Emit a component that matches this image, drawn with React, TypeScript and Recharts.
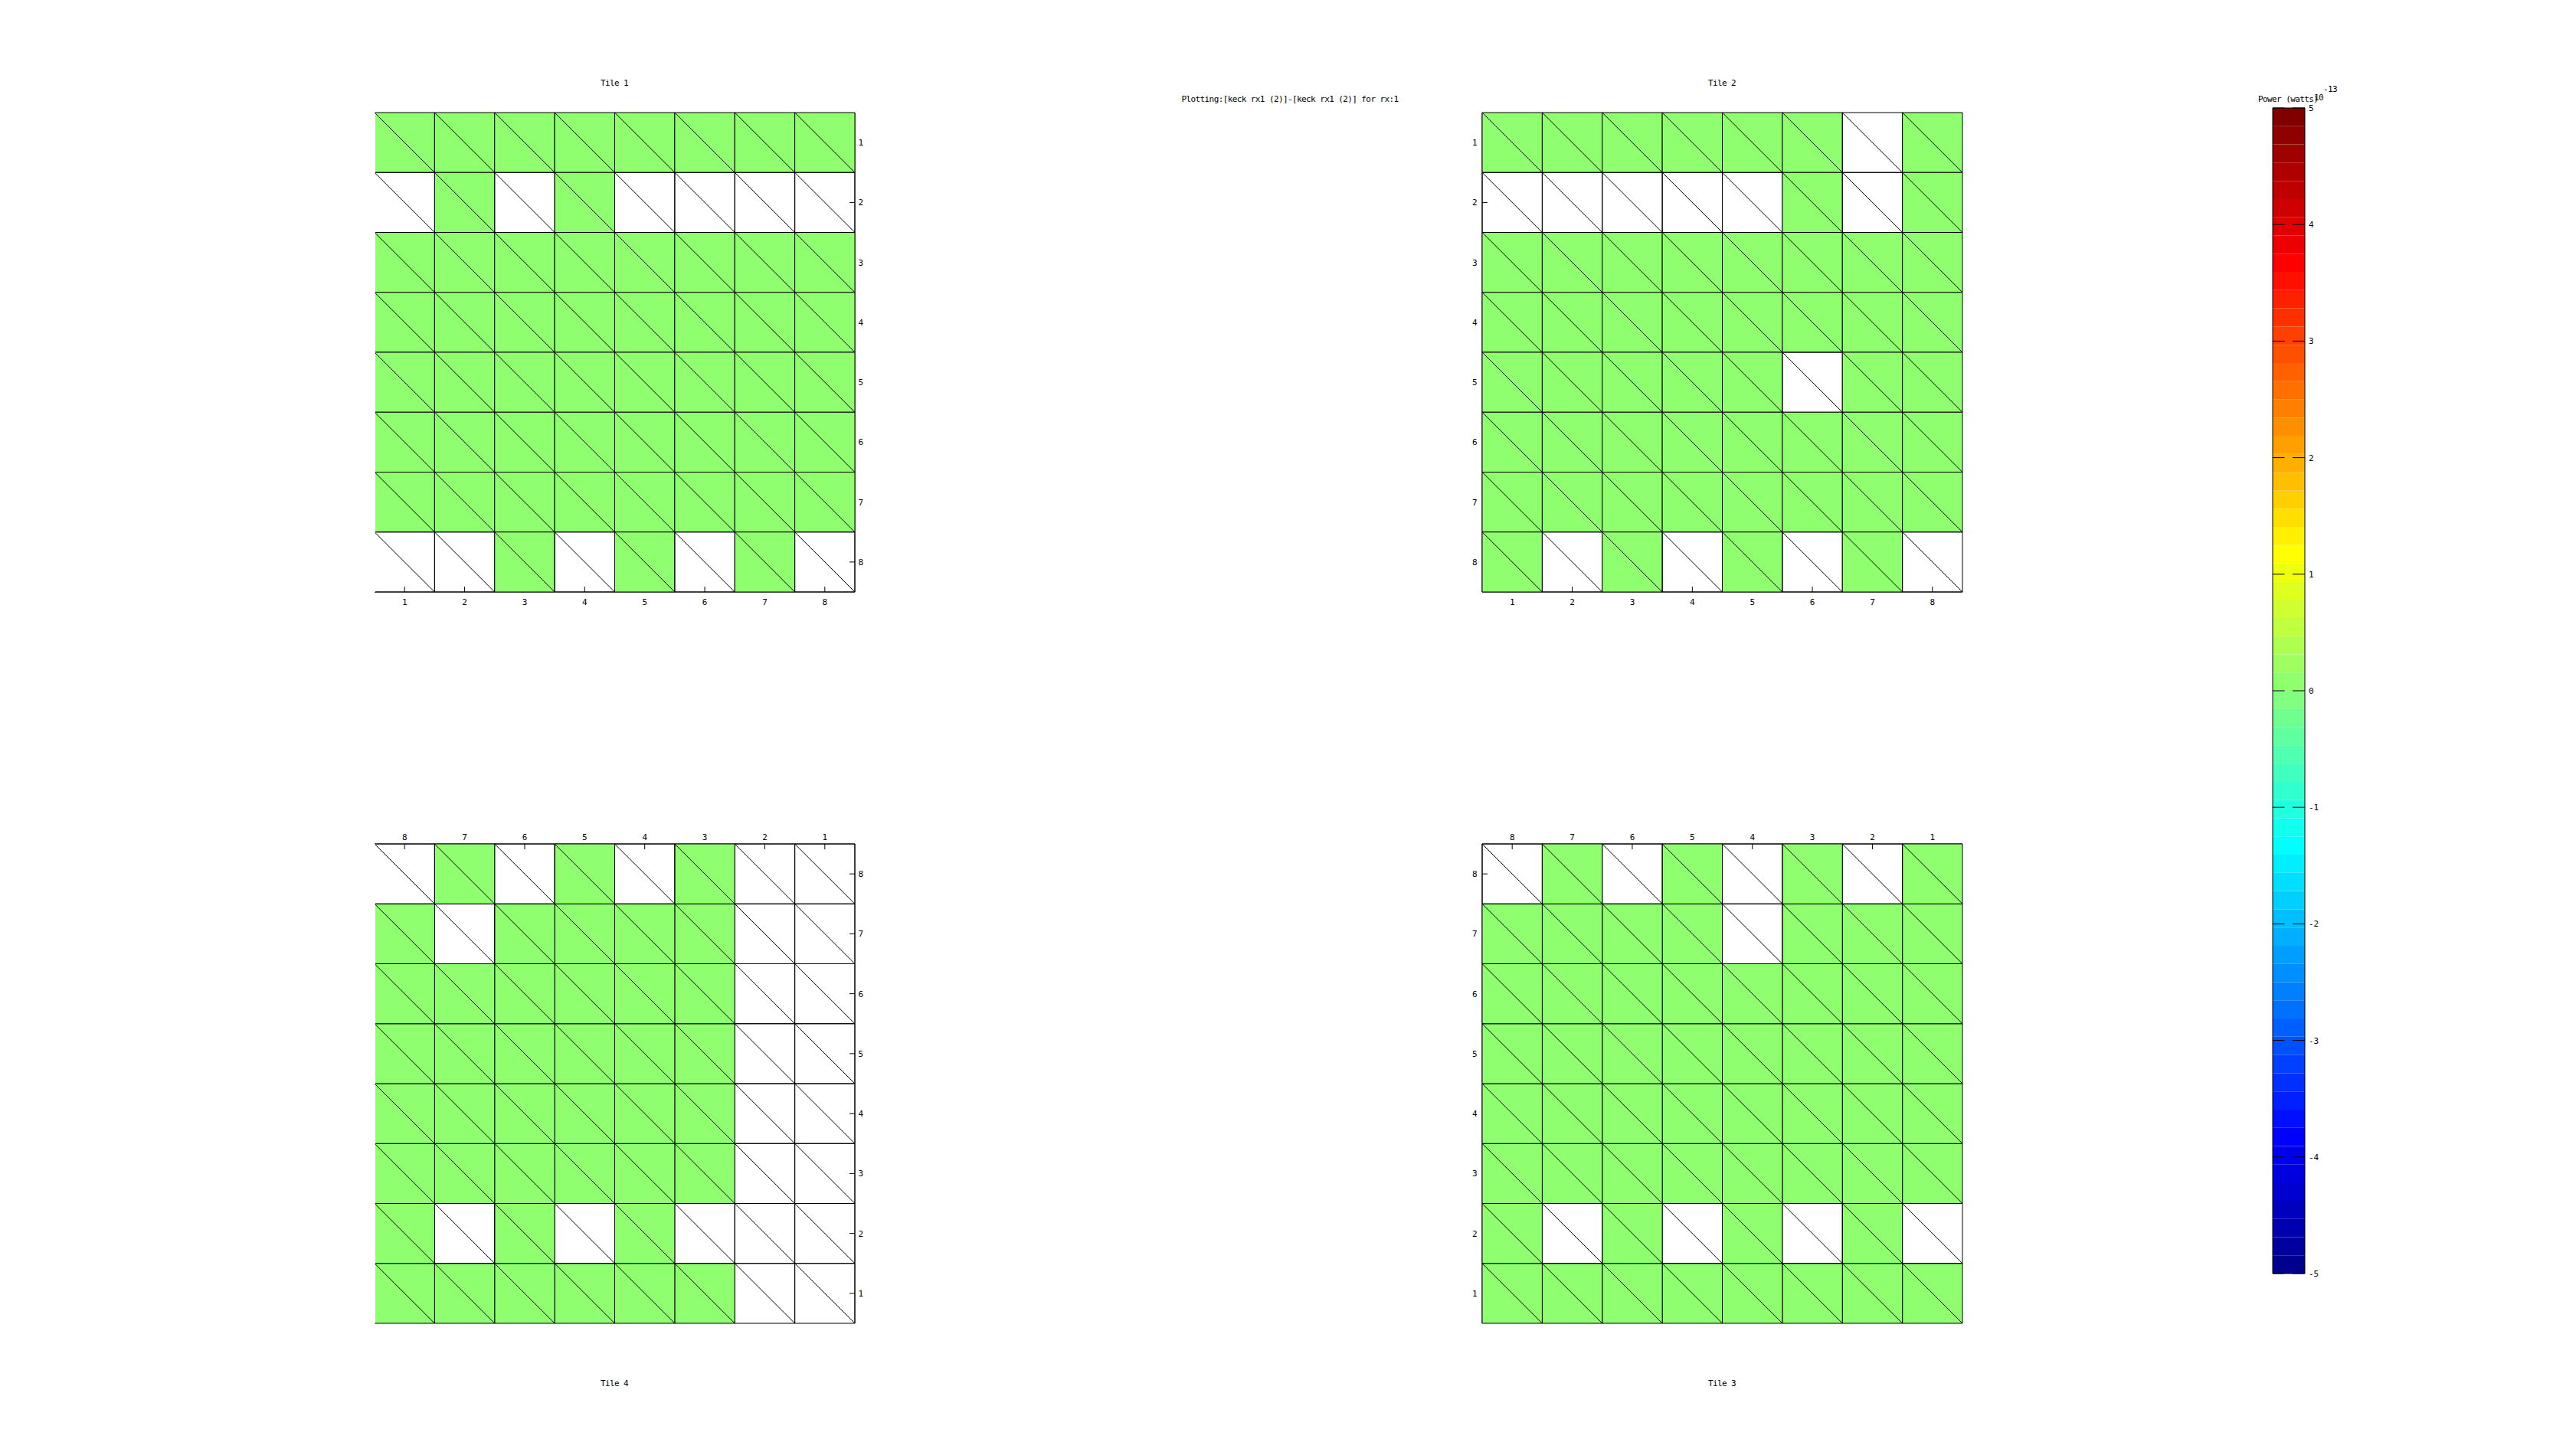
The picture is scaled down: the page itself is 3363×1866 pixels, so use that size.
import React from 'react';
import { ScatterChart, Scatter, XAxis, YAxis, ReferenceArea, ReferenceLine } from 'recharts';

const N = null;

// Grid indices (pixel columns / rows) and their tick labels
const GRID_TICKS = [1, 2, 3, 4, 5, 6, 7, 8];
const GRID_DOMAIN: [number, number] = [0.5, 8.5];

// Colour scale (x 10^-13 watts)
const COLOR_MIN = -5;
const COLOR_MAX = 5;
const COLORBAR_TICKS = [-5, -4, -3, -2, -1, 0, 1, 2, 3, 4, 5];

// 64-step jet colour map, bottom (-5) to top (+5)
const JET64 = [
  '#00008F', '#00009F', '#0000AF', '#0000BF', '#0000CF', '#0000DF', '#0000EF', '#0000FF',
  '#0010FF', '#0020FF', '#0030FF', '#0040FF', '#0050FF', '#0060FF', '#0070FF', '#0080FF',
  '#008FFF', '#009FFF', '#00AFFF', '#00BFFF', '#00CFFF', '#00DFFF', '#00EFFF', '#00FFFF',
  '#10FFEF', '#20FFDF', '#30FFCF', '#40FFBF', '#50FFAF', '#60FF9F', '#70FF8F', '#80FF80',
  '#8FFF70', '#9FFF60', '#AFFF50', '#BFFF40', '#CFFF30', '#DFFF20', '#EFFF10', '#FFFF00',
  '#FFEF00', '#FFDF00', '#FFCF00', '#FFBF00', '#FFAF00', '#FF9F00', '#FF8F00', '#FF8000',
  '#FF7000', '#FF6000', '#FF5000', '#FF4000', '#FF3000', '#FF2000', '#FF1000', '#FF0000',
  '#EF0000', '#DF0000', '#CF0000', '#BF0000', '#AF0000', '#9F0000', '#8F0000', '#800000',
];

// Power per pixel: rows are y = 1..8, columns x = 1..8 ; null = no data
const TILE1 = [
  [0, 0, 0, 0, 0, 0, 0, 0],
  [N, 0, N, 0, N, N, N, N],
  [0, 0, 0, 0, 0, 0, 0, 0],
  [0, 0, 0, 0, 0, 0, 0, 0],
  [0, 0, 0, 0, 0, 0, 0, 0],
  [0, 0, 0, 0, 0, 0, 0, 0],
  [0, 0, 0, 0, 0, 0, 0, 0],
  [N, N, 0, N, 0, N, 0, N],
];
const TILE2 = [
  [0, 0, 0, 0, 0, 0, N, 0],
  [N, N, N, N, N, 0, N, 0],
  [0, 0, 0, 0, 0, 0, 0, 0],
  [0, 0, 0, 0, 0, 0, 0, 0],
  [0, 0, 0, 0, 0, N, 0, 0],
  [0, 0, 0, 0, 0, 0, 0, 0],
  [0, 0, 0, 0, 0, 0, 0, 0],
  [0, N, 0, N, 0, N, 0, N],
];
const TILE3 = [
  [0, 0, 0, 0, 0, 0, 0, 0],
  [N, 0, N, 0, N, 0, N, 0],
  [0, 0, 0, 0, 0, 0, 0, 0],
  [0, 0, 0, 0, 0, 0, 0, 0],
  [0, 0, 0, 0, 0, 0, 0, 0],
  [0, 0, 0, 0, 0, 0, 0, 0],
  [0, 0, 0, N, 0, 0, 0, 0],
  [0, N, 0, N, 0, N, 0, N],
];
const TILE4 = [
  [N, N, 0, 0, 0, 0, 0, 0],
  [N, N, N, 0, N, 0, N, 0],
  [N, N, 0, 0, 0, 0, 0, 0],
  [N, N, 0, 0, 0, 0, 0, 0],
  [N, N, 0, 0, 0, 0, 0, 0],
  [N, N, 0, 0, 0, 0, 0, 0],
  [N, N, 0, 0, 0, 0, N, 0],
  [N, N, 0, N, 0, N, 0, N],
];

const MAIN_TITLE = 'Plotting:[keck rx1 (2)]-[keck rx1 (2)] for rx:1';
const COLORBAR_TITLE = 'Power (watts)';

const FONT = "'DejaVu Sans Mono', 'Liberation Mono', monospace";
const PLOT_W = 627;
const PLOT_H = 626;
const AXIS = 40;
const PAD = 5;

function colorFor(v: number): string {
  const idx = Math.max(0, Math.min(63, Math.floor(((v - COLOR_MIN) / (COLOR_MAX - COLOR_MIN)) * 64)));
  return JET64[idx];
}

type TileProps = {
  rows: (number | null)[][];
  xOrient: 'top' | 'bottom';
  yOrient: 'left' | 'right';
  xReversed: boolean;
  yReversed: boolean;
  plotLeft: number;
  plotTop: number;
};

const tickStyle = { fontSize: 11, fontFamily: FONT, fill: '#000' };

function Tile({ rows, xOrient, yOrient, xReversed, yReversed, plotLeft, plotTop }: TileProps) {
  const cells: { x: number; y: number; v: number | null }[] = [];
  rows.forEach((row, yi) => row.forEach((v, xi) => cells.push({ x: xi + 1, y: yi + 1, v })));
  const left = plotLeft - PAD - (yOrient === 'left' ? AXIS : 0);
  const top = plotTop - PAD - (xOrient === 'top' ? AXIS : 0);
  // the edge opposite the y axis is drawn without a frame line in the reference
  const openEdge = yOrient === 'right' ? (xReversed ? GRID_DOMAIN[1] : GRID_DOMAIN[0]) : null;
  return (
    <div style={{ position: 'absolute', left, top }}>
      <ScatterChart
        width={PLOT_W + AXIS + 2 * PAD}
        height={PLOT_H + AXIS + 2 * PAD}
        margin={{ top: PAD, right: PAD, bottom: PAD, left: PAD }}
      >
        <XAxis
          type="number"
          dataKey="x"
          domain={GRID_DOMAIN}
          ticks={GRID_TICKS}
          interval={0}
          allowDataOverflow
          orientation={xOrient}
          reversed={xReversed}
          height={AXIS}
          tickSize={-7}
          tickMargin={xOrient === 'bottom' ? 16 : 12.5}
          tick={tickStyle}
          stroke="#000"
          axisLine={{ stroke: '#000', strokeWidth: 1 }}
          tickLine={{ stroke: '#000', strokeWidth: 1 }}
        />
        <YAxis
          type="number"
          dataKey="y"
          domain={GRID_DOMAIN}
          ticks={GRID_TICKS}
          interval={0}
          allowDataOverflow
          orientation={yOrient}
          reversed={yReversed}
          width={AXIS}
          tickSize={-7}
          tickMargin={yOrient === 'right' ? 11.4 : 13.4}
          tick={tickStyle}
          stroke="#000"
          axisLine={{ stroke: '#000', strokeWidth: 1 }}
          tickLine={{ stroke: '#000', strokeWidth: 1 }}
        />
        <Scatter data={cells} isAnimationActive={false} shape={() => <g />} />
        {cells.map((c) => (
          <ReferenceArea
            key={`a${c.x}-${c.y}`}
            x1={c.x - 0.5}
            x2={c.x + 0.5}
            y1={c.y - 0.5}
            y2={c.y + 0.5}
            fill={c.v === null ? 'none' : colorFor(c.v)}
            fillOpacity={1}
            stroke="#000"
            strokeWidth={1}
            ifOverflow="visible"
            zIndex={550}
          />
        ))}
        {cells.map((c) => (
          <ReferenceLine
            key={`d${c.x}-${c.y}`}
            segment={[
              { x: c.x - 0.5, y: c.y - 0.5 },
              { x: c.x + 0.5, y: c.y + 0.5 },
            ]}
            stroke="#000"
            strokeWidth={1}
            ifOverflow="visible"
            zIndex={560}
          />
        ))}
        {openEdge !== null && (
          <ReferenceLine
            x={openEdge}
            stroke="#fff"
            strokeWidth={2}
            ifOverflow="visible"
            zIndex={565}
          />
        )}
      </ScatterChart>
    </div>
  );
}

const CB_LEFT = 2967;
const CB_TOP = 141;
const CB_W = 42;
const CB_H = 1522;
const CB_PAD = 15;

function ColorBar() {
  const step = (COLOR_MAX - COLOR_MIN) / JET64.length;
  const pts = [
    { x: 0, y: COLOR_MIN },
    { x: 1, y: COLOR_MAX },
  ];
  return (
    <div style={{ position: 'absolute', left: CB_LEFT - CB_PAD, top: CB_TOP - CB_PAD }}>
      <ScatterChart
        width={CB_W + AXIS + 2 * CB_PAD}
        height={CB_H + 2 * CB_PAD}
        margin={{ top: CB_PAD, right: CB_PAD, bottom: CB_PAD, left: CB_PAD }}
      >
        <XAxis type="number" dataKey="x" domain={[0, 1]} hide allowDataOverflow />
        <YAxis
          type="number"
          dataKey="y"
          domain={[COLOR_MIN, COLOR_MAX]}
          ticks={COLORBAR_TICKS}
          interval={0}
          allowDataOverflow
          orientation="right"
          width={AXIS}
          axisLine={false}
          tickLine={false}
          tickSize={0}
          tickMargin={5}
          tick={tickStyle}
        />
        <Scatter data={pts} isAnimationActive={false} shape={() => <g />} />
        {JET64.map((col, i) => (
          <ReferenceArea
            key={`b${i}`}
            x1={0}
            x2={1}
            y1={COLOR_MIN + i * step}
            y2={COLOR_MIN + (i + 1) * step}
            fill={col}
            fillOpacity={1}
            stroke="none"
            ifOverflow="visible"
            zIndex={550}
          />
        ))}
        {COLORBAR_TICKS.map((t) => (
          <ReferenceLine
            key={`l${t}`}
            segment={[
              { x: 0, y: t },
              { x: 0.37, y: t },
            ]}
            stroke="#000"
            strokeWidth={1}
            ifOverflow="visible"
            zIndex={560}
          />
        ))}
        {COLORBAR_TICKS.map((t) => (
          <ReferenceLine
            key={`r${t}`}
            segment={[
              { x: 0.62, y: t },
              { x: 1, y: t },
            ]}
            stroke="#000"
            strokeWidth={1}
            ifOverflow="visible"
            zIndex={560}
          />
        ))}
        <ReferenceArea
          x1={0}
          x2={1}
          y1={COLOR_MIN}
          y2={COLOR_MAX}
          fill="none"
          stroke="#000"
          strokeWidth={1}
          ifOverflow="visible"
          zIndex={570}
        />
      </ScatterChart>
    </div>
  );
}

const textBase: React.CSSProperties = {
  position: 'absolute',
  fontFamily: FONT,
  fontSize: 11,
  letterSpacing: '-0.6px',
  lineHeight: '12px',
  color: '#000',
  whiteSpace: 'nowrap',
};

function CenteredText({ text, cx, cy }: { text: string; cx: number; cy: number }) {
  return (
    <div style={{ ...textBase, left: cx - 200, width: 400, top: cy - 6, textAlign: 'center' }}>{text}</div>
  );
}

export default function App() {
  return (
    <div style={{ position: 'absolute', left: 0, top: 0, width: 3363, height: 1866, background: '#fff' }}>
      <CenteredText text="Tile 1" cx={802} cy={109} />
      <CenteredText text="Tile 2" cx={2248} cy={109} />
      <CenteredText text="Tile 4" cx={802} cy={1807} />
      <CenteredText text="Tile 3" cx={2248} cy={1807} />
      <CenteredText text={MAIN_TITLE} cx={1684} cy={130} />
      <Tile rows={TILE1} xOrient="bottom" yOrient="right" xReversed={false} yReversed plotLeft={489} plotTop={147} />
      <Tile rows={TILE2} xOrient="bottom" yOrient="left" xReversed={false} yReversed plotLeft={1935} plotTop={147} />
      <Tile rows={TILE4} xOrient="top" yOrient="right" xReversed yReversed={false} plotLeft={489} plotTop={1102} />
      <Tile rows={TILE3} xOrient="top" yOrient="left" xReversed yReversed={false} plotLeft={1935} plotTop={1102} />
      <ColorBar />
      <div style={{ ...textBase, left: 2948, top: 124 }}>{COLORBAR_TITLE}</div>
      <div style={{ ...textBase, left: 3021, top: 122 }}>10</div>
      <div style={{ ...textBase, left: 3033, top: 111 }}>-13</div>
    </div>
  );
}
